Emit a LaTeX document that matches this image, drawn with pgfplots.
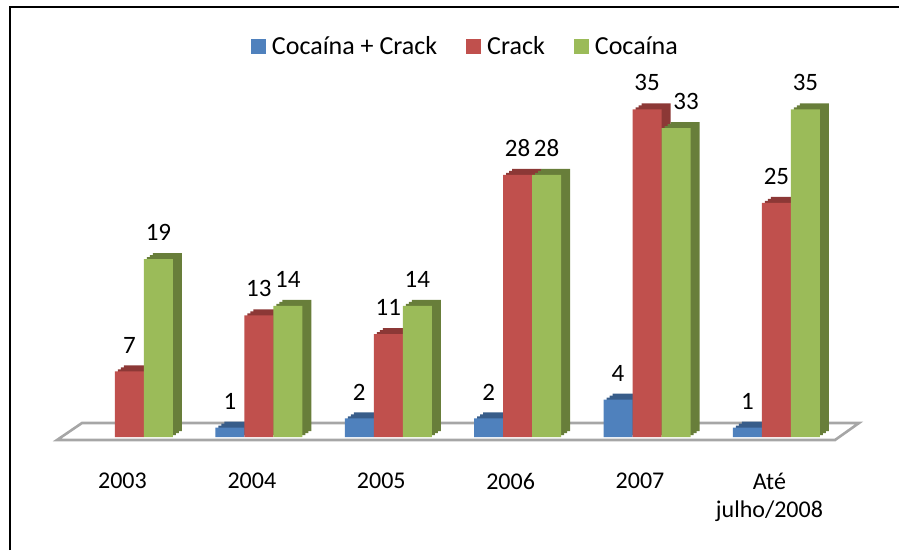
\documentclass[border=0pt]{standalone}
\usepackage{fontspec}
\setmainfont{Carlito}
\usepackage{pgfplots}
\usepackage{pgfplotstable}
\pgfplotsset{compat=1.18}

\definecolor{cbBlue}{RGB}{79,129,189}
\definecolor{cbBlueD}{RGB}{56,93,138}
\definecolor{cbRed}{RGB}{192,80,77}
\definecolor{cbRedD}{RGB}{140,56,54}
\definecolor{cbGreen}{RGB}{155,187,89}
\definecolor{cbGreenD}{RGB}{104,126,58}
\definecolor{floorgray}{RGB}{166,166,166}

% Cocaína + Crack (no cases in 2003)
\pgfplotstableread{
x v
1 1
2 2
3 2
4 4
5 1
}\mixdata
% Crack
\pgfplotstableread{
x v
0 7
1 13
2 11
3 28
4 35
5 25
}\crackdata
% Cocaína (dx: horizontal offset of the value label)
\pgfplotstableread{
x v dx
0 19 0
1 14 0
2 14 0
3 28 0
4 33 10
5 35 0
}\cocadata

\pgfplotsset{
  sqlegend/.style={legend image code/.code={\fill[##1] (0pt,-7.5pt) rectangle (15pt,7.5pt);}},
  front/.style={ybar, bar width=29pt, bar shift=#1, draw=none, sqlegend,
    every node near coord/.append style={xshift=#1}},
  side/.style n args={3}{ybar, bar width=29pt, bar shift=#1, yshift=#2, draw=none, fill=#3, forget plot},
}

\begin{document}
\begin{tikzpicture}[x=1pt,y=1pt]
% floor of the 3D plot area
\draw[floorgray, line width=2.6pt, line join=miter]
  (57,110) -- (835,110) -- (859,127) -- (82,127) -- cycle;

\begin{axis}[
  at={(13pt,113pt)}, anchor=south west,
  scale only axis, width=879.9pt, height=374.5pt,
  xmin=-0.9, xmax=5.9, ymin=0, ymax=40,
  clip=false,
  hide y axis,
  axis x line*=bottom,
  x axis line style={draw=none},
  xtick={0,...,5},
  xticklabels={2003,2004,2005,2006,2007,{Até\\julho/2008}},
  major tick length=0pt,
  xticklabel style={anchor=north, inner sep=0pt, yshift=-36pt, xshift=-7pt,
    align=center, font=\fontsize{24}{28}\selectfont},
  /pgf/number format/assume math mode=true,
  every node near coord/.append style={font=\fontsize{25}{30}\selectfont,
    anchor=south, inner sep=0pt, yshift=18pt},
  legend columns=3,
  legend style={at={(axis description cs:0.513,1.044)}, anchor=center,
    draw=none, fill=none, inner sep=0pt,
    font=\fontsize{26}{31}\selectfont,
    nodes={inner sep=0pt},
    /tikz/every odd column/.append style={column sep=6pt},
    /tikz/every even column/.append style={column sep=29pt}},
]
% Cocaína + Crack
\addplot[side={-26pt}{2pt}{cbBlueD}] table[x=x,y=v]{\mixdata};
\addplot[side={-23pt}{4pt}{cbBlueD}] table[x=x,y=v]{\mixdata};
\addplot[side={-20pt}{6pt}{cbBlueD}] table[x=x,y=v]{\mixdata};
\addplot[front={-29pt}, fill=cbBlue, nodes near coords] table[x=x,y=v]{\mixdata};
\addlegendentry{Cocaína + Crack}
% Crack
\addplot[side={3pt}{2pt}{cbRedD}] table[x=x,y=v]{\crackdata};
\addplot[side={6pt}{4pt}{cbRedD}] table[x=x,y=v]{\crackdata};
\addplot[side={9pt}{6pt}{cbRedD}] table[x=x,y=v]{\crackdata};
\addplot[front={0pt}, fill=cbRed, nodes near coords] table[x=x,y=v]{\crackdata};
\addlegendentry{Crack}
% Cocaína
\addplot[side={32pt}{2pt}{cbGreenD}] table[x=x,y=v]{\cocadata};
\addplot[side={35pt}{4pt}{cbGreenD}] table[x=x,y=v]{\cocadata};
\addplot[side={38pt}{6pt}{cbGreenD}] table[x=x,y=v]{\cocadata};
\addplot[front={29pt}, fill=cbGreen, nodes near coords,
  visualization depends on={\thisrow{dx} \as \lblshift},
  every node near coord/.append style={xshift=\lblshift pt}]
  table[x=x,y=v]{\cocadata};
\addlegendentry{Cocaína}
\end{axis}

% chart frame
\draw[line width=2.2pt] (9.7,0) -- (9.7,543.3) -- (899,543.3);
\pgfresetboundingbox
\path (0,0) rectangle (899,550);
\end{tikzpicture}
\end{document}
